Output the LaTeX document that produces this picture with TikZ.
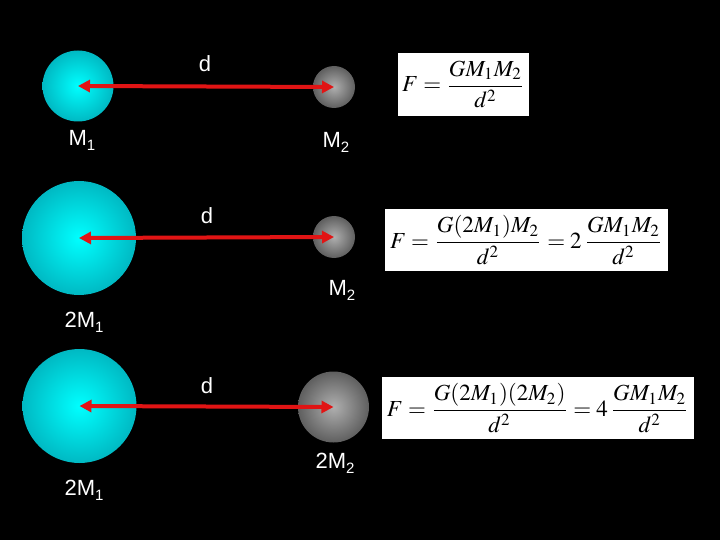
\documentclass[tikz,border=0pt]{standalone}
\usepackage{mathptmx}
\usepackage{graphicx}
\usepackage{fontspec}
\setmainfont{Liberation Sans}
\usetikzlibrary{arrows.meta}
\definecolor{arrowred}{RGB}{225,20,20}
\definecolor{cyanin}{RGB}{0,255,255}
\definecolor{cyanout}{RGB}{0,185,195}
\definecolor{grayin}{RGB}{175,175,175}
\definecolor{grayout}{RGB}{95,95,95}
\tikzset{
  cball/.style={circle, minimum size=#1, inner sep=0pt, shading=radial, inner color=cyanin, outer color=cyanout},
  gball/.style={circle, minimum size=#1, inner sep=0pt, shading=radial, inner color=grayin, outer color=grayout},
  dist/.style={draw=arrowred, line width=4pt, {Triangle[length=12pt,width=12pt]}-{Triangle[length=12pt,width=12pt]}},
  lbl/.style={text=white, font=\fontsize{22}{24}\selectfont, inner sep=0pt},
  formula/.style={fill=white, inner sep=0pt, text=black}
}
\newcommand{\sbs}[1]{\raisebox{-5pt}{\fontsize{15}{16}\selectfont #1}}
\begin{document}
\begin{tikzpicture}[x=1pt,y=-1pt]
\fill[black] (0,0) rectangle (720,540);
\useasboundingbox (0,0) rectangle (720,540);
% row 1
\node[cball=71pt] (a1) at (78,86) {};
\node[gball=42pt] (b1) at (334,87) {};
\draw[dist] (a1.center) -- (b1.center);
\node[lbl] (d1) at (205,64) {d};
\node[lbl] (m1) at (82,140) {M\sbs{1}};
\node[lbl] (m2) at (336,142) {M\sbs{2}};
\node[formula, minimum width=131pt, minimum height=63pt] (f1) at (463.5,84.5) {\scalebox{2.3}{$\displaystyle F=\frac{GM_1M_2}{d^2}$}};
% row 2
\node[cball=114pt] (a2) at (79,238) {};
\node[gball=42pt] (b2) at (334,237) {};
\draw[dist] (a2.center) -- (b2.center);
\node[lbl] (d2) at (207,216) {d};
\node[lbl] (m3) at (342,290) {M\sbs{2}};
\node[lbl] (m4) at (84,322) {2M\sbs{1}};
\node[formula, minimum width=283pt, minimum height=62pt] (f2) at (526.5,240) {\scalebox{2.3}{$\displaystyle F=\frac{G(2M_1)M_2}{d^2}=2\,\frac{GM_1M_2}{d^2}$}};
% row 3
\node[cball=114pt] (a3) at (79.5,406) {};
\node[gball=71pt] (b3) at (333.5,407) {};
\draw[dist] (a3.center) -- (b3.center);
\node[lbl] (d3) at (207,386) {d};
\node[lbl] (m5) at (335,463) {2M\sbs{2}};
\node[lbl] (m6) at (84,490) {2M\sbs{1}};
\node[formula, minimum width=312pt, minimum height=62pt] (f3) at (538,408) {\scalebox{2.3}{$\displaystyle F=\frac{G(2M_1)(2M_2)}{d^2}=4\,\frac{GM_1M_2}{d^2}$}};
\end{tikzpicture}
\end{document}
